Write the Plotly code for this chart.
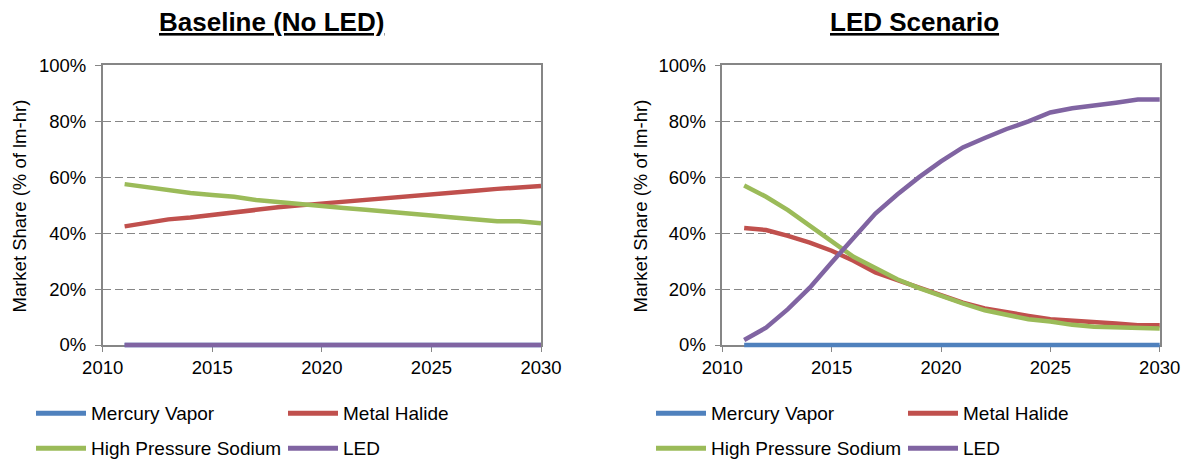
import plotly.graph_objects as go

# market share of lumen-hours, %
years = list(range(2011, 2031))
series_names = ["Mercury Vapor", "Metal Halide", "High Pressure Sodium", "LED"]
series_colors = ["#4F81BD", "#C0504D", "#9BBB59", "#8064A2"]

mv_base = [0.0] * 20
mh_base = [42.4, 43.6, 44.9, 45.6, 46.5, 47.8, 48.5, 49.2, 49.9, 50.5,
           51.1, 51.8, 52.6, 53.1, 53.7, 54.5, 55.1, 55.8, 56.3, 56.8]
hps_base = [57.5, 56.4, 55.7, 54.3, 53.6, 53.0, 51.8, 51.0, 50.4, 49.7,
            49.0, 48.3, 47.5, 46.9, 46.3, 45.6, 44.9, 44.2, 44.2, 43.5]
led_base = [0.0] * 20

mv_led = [0.0] * 20
mh_led = [41.8, 41.1, 39.0, 36.6, 33.7, 30.1, 25.9, 23.2, 20.3, 17.5,
          15.1, 13.1, 11.6, 10.4, 9.2, 8.6, 7.9, 7.7, 7.1, 7.1]
hps_led = [57.0, 53.0, 48.2, 42.7, 36.8, 31.5, 27.5, 23.5, 20.3, 17.5,
           14.9, 12.4, 11.0, 9.2, 8.4, 7.2, 6.5, 6.4, 5.9, 5.9]
led_led = [1.8, 6.2, 12.8, 20.5, 29.5, 38.4, 47.0, 53.8, 60.0, 65.6,
           70.6, 74.0, 77.2, 79.9, 83.1, 84.6, 85.8, 86.6, 87.7, 87.7]

panel_titles = ["Baseline (No LED)", "LED Scenario"]
y_title = "Market Share (% of lm-hr)"

W, H = 1186, 461
FONT = "Liberation Sans, Arial, sans-serif"


def px(x):
    return x / W


def py(y):
    return 1 - y / H


fig = go.Figure()

# empty traces so the visible axes (x/y, x2/y2) get drawn
for xa, ya in [("x", "y"), ("x2", "y2")]:
    fig.add_trace(go.Scatter(x=[], y=[], xaxis=xa, yaxis=ya, showlegend=False,
                             hoverinfo="skip"))

# the lines sit on hidden axes (x3/y3, x4/y4) spanning a few px more than the
# visible ones at the same scale, so thick lines at the edges are not clipped
panels = [
    dict(data=[mv_base, mh_base, hps_base, led_base], xa="x3", ya="y3"),
    dict(data=[mv_led, mh_led, hps_led, led_led], xa="x4", ya="y4"),
]
for p in panels:
    for name, color, vals in zip(series_names, series_colors, p["data"]):
        fig.add_trace(go.Scatter(
            x=years, y=vals, name=name, mode="lines",
            line=dict(color=color, width=4.5),
            xaxis=p["xa"], yaxis=p["ya"], showlegend=False,
        ))

xstyle = dict(visible=True, range=[2010, 2030], tick0=2010, dtick=5, showgrid=False,
              zeroline=False, showline=True, linecolor="#868686", linewidth=1.5,
              mirror=True, ticks="outside", ticklen=5, tickcolor="#868686",
              automargin=False, fixedrange=True, tickfont=dict(size=18.5, color="black"))
ystyle = dict(visible=True, range=[0, 100], tick0=0, dtick=20, ticksuffix="%",
              zeroline=False, showgrid=True, gridcolor="#868686", gridwidth=1,
              griddash="8px,4px", showline=True, linecolor="#868686", linewidth=1.5,
              mirror=True, ticks="outside", ticklen=6, tickcolor="#868686",
              ticklabelstandoff=5,
              automargin=False, fixedrange=True, tickfont=dict(size=18.5, color="black"))

pad = 5
y_bot, y_top = 345, 65.2
ys = (y_bot - y_top) / 100
ydom = [py(y_bot), py(y_top)]
yhid = dict(visible=False, domain=[py(y_bot + pad), py(y_top - pad)],
            range=[-pad / ys, 100 + pad / ys], automargin=False, fixedrange=True)

layout_axes = dict(
    yaxis=dict(domain=ydom, anchor="x", **ystyle),
    yaxis2=dict(domain=ydom, anchor="x2", **ystyle),
    yaxis3=dict(anchor="x3", **yhid),
    yaxis4=dict(anchor="x4", **yhid),
)
for i, (x_l, x_r) in enumerate([(102.7, 541), (722.3, 1159.7)]):
    xs = (x_r - x_l) / 20
    layout_axes["xaxis" if i == 0 else "xaxis2"] = dict(
        domain=[px(x_l), px(x_r)], anchor="y" if i == 0 else "y2", **xstyle)
    layout_axes["xaxis%d" % (i + 3)] = dict(
        visible=False, domain=[px(x_l - pad), px(x_r + pad)],
        range=[2010 - pad / xs, 2030 + pad / xs], anchor="y%d" % (i + 3),
        automargin=False, fixedrange=True)
fig.update_layout(**layout_axes)

annotations = []
shapes = []
# panel titles and y axis titles
for title, cx, ax in zip(panel_titles, [271.5, 914.5], [18.5, 639.5]):
    annotations.append(dict(
        text="<u>" + title + "</u>", x=px(cx), y=py(22), xref="paper", yref="paper",
        xanchor="center", yanchor="middle", showarrow=False,
        font=dict(size=26, color="black", family=FONT, weight="bold"),
    ))
    annotations.append(dict(
        text=y_title, x=px(ax), y=py(206), xref="paper", yref="paper", textangle=-90,
        xanchor="center", yanchor="middle", showarrow=False,
        font=dict(size=18.5, color="black", family=FONT),
    ))

# legends below each panel, two columns
for offset in [0, 620]:
    for i, (name, color) in enumerate(zip(series_names, series_colors)):
        x0 = 36 + offset + (i % 2) * 252
        yy = 413.3 + (i // 2) * 35
        shapes.append(dict(type="line", xref="paper", yref="paper",
                           x0=px(x0), x1=px(x0 + 50), y0=py(yy), y1=py(yy),
                           line=dict(color=color, width=5)))
        annotations.append(dict(
            text=name, x=px(x0 + 53), y=py(yy), xref="paper", yref="paper",
            xanchor="left", yanchor="middle", showarrow=False,
            font=dict(size=19, color="black", family=FONT),
        ))

fig.update_layout(
    width=W, height=H, margin=dict(l=0, r=0, t=0, b=0),
    paper_bgcolor="white", plot_bgcolor="rgba(0,0,0,0)",
    font=dict(family=FONT, color="black"),
    annotations=annotations, shapes=shapes, showlegend=False,
)

fig.write_html("out.html", config={"displayModeBar": False},
               post_script="document.body.style.margin='0';")
